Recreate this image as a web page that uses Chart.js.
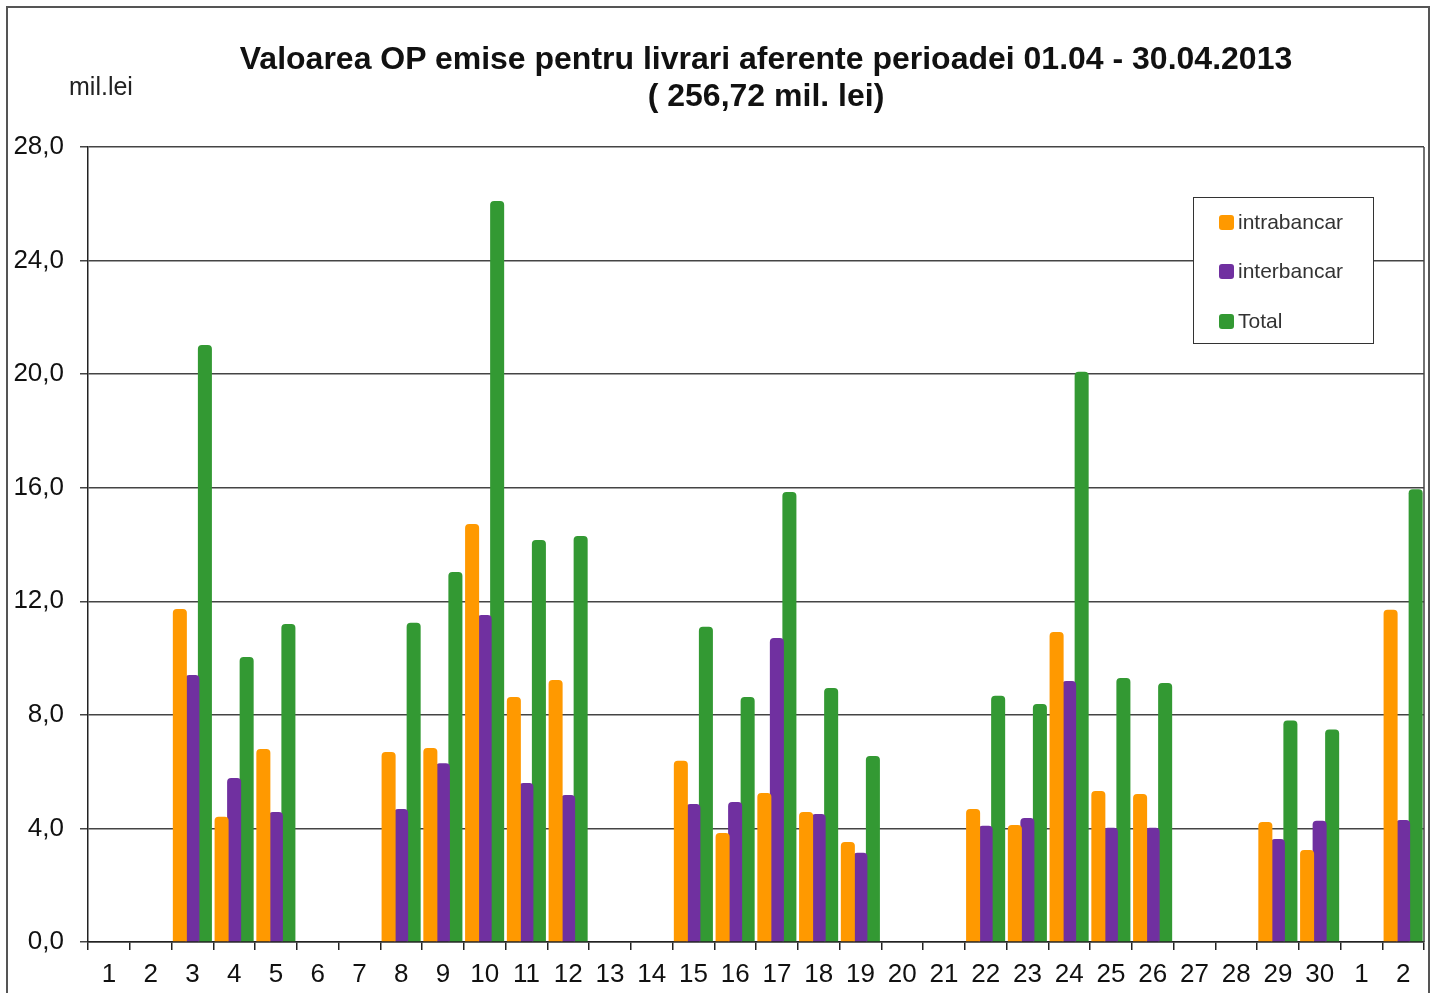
<!DOCTYPE html>
<html>
<head>
<meta charset="utf-8">
<script src="https://cdn.jsdelivr.net/npm/chart.js@4/dist/chart.umd.min.js"></script>
<style>
    body { margin: 0; background: #fff; font-family: "Liberation Sans", Arial, sans-serif; }
    #wrap { position: relative; width: 1435px; height: 993px; overflow: hidden; }
    #frame { position: absolute; left: 6px; top: 6px; width: 1424px; height: 1000px; border: 2px solid #555; box-sizing: border-box; }
    #title { position: absolute; left: 0; width: 1532px; top: 40px; text-align: center; font-weight: bold; font-size: 32px; line-height: 37px; color: #111; }
    #unit { position: absolute; left: 69px; top: 72px; font-size: 25px; color: #222; }
    #legend { position: absolute; left: 1193px; top: 197px; width: 181px; height: 147px; border: 1.5px solid #333; background: #fff; box-sizing: border-box; }
    .item { position: absolute; left: 25px; height: 22px; font-size: 21px; line-height: 22px; color: #333; }
    .item span { display: inline-block; width: 15px; height: 15px; border-radius: 3px; margin-right: 4px; vertical-align: -1px; }
</style>
</head>
<body>
<div id="wrap">
    <div id="frame"></div>
    <canvas id="op-chart"></canvas>
    <div id="title">Valoarea OP emise pentru livrari aferente perioadei 01.04 - 30.04.2013<br>( 256,72 mil. lei)</div>
    <div id="unit">mil.lei</div>
    <div id="legend"></div>
</div>
<script>
// ==============================
// Data
// ==============================
const dayLabels = ["1", "2", "3", "4", "5", "6", "7", "8", "9", "10", "11", "12", "13", "14", "15", "16",
    "17", "18", "19", "20", "21", "22", "23", "24", "25", "26", "27", "28", "29", "30", "1", "2"];

const intrabancarValues = [null, null, 11.73, 4.41, 6.80, null, null, 6.69, 6.83, 14.72, 8.63, 9.23, null, null, 6.38, 3.84,
    5.25, 4.58, 3.52, null, null, 4.68, 4.12, 10.92, 5.32, 5.21, null, null, 4.23, 3.24, null, 11.70];

const interbancarValues = [null, null, 9.40, 5.78, 4.58, null, null, 4.68, 6.30, 11.52, 5.60, 5.18, null, null, 4.86, 4.93,
    10.71, 4.51, 3.14, null, null, 4.09, 4.37, 9.19, 4.02, 4.02, null, null, 3.63, 4.27, null, 4.30];

const totalValues = [null, null, 21.03, 10.04, 11.20, null, null, 11.24, 13.03, 26.10, 14.16, 14.30, null, null, 11.10, 8.63,
    15.85, 8.95, 6.55, null, null, 8.67, 8.38, 20.08, 9.30, 9.12, null, null, 7.80, 7.48, null, 15.95];

const yTicks = [0, 4, 8, 12, 16, 20, 24, 28];

const seriesNames = ["intrabancar", "interbancar", "Total"];
const seriesColors = ["#FF9900", "#7030A0", "#339933"];

// ==============================
// Plot frame (right edge)
// ==============================
const plotFrame = {
    id: "plotFrame",
    afterDraw(chart) {
        const { ctx, chartArea } = chart;
        ctx.save();
        ctx.strokeStyle = "#444";
        ctx.lineWidth = 1.5;
        ctx.beginPath();
        ctx.moveTo(chartArea.right, chartArea.top);
        ctx.lineTo(chartArea.right, chartArea.bottom);
        ctx.stroke();
        ctx.restore();
    }
};

// ==============================
// Create Chart
// ==============================
const seriesData = [intrabancarValues, interbancarValues, totalValues];

const opChart = new Chart(document.getElementById("op-chart"), {
    type: "bar",
    data: {
        labels: dayLabels,
        datasets: seriesNames.map(function (name, i) {
            return {
                label: name,
                data: seriesData[i],
                backgroundColor: seriesColors[i],
                borderRadius: { topLeft: 4, topRight: 4 },
                borderSkipped: "bottom",
                categoryPercentage: 0.9,
                barPercentage: 1.12
            };
        })
    },
    options: {
        responsive: true,
        maintainAspectRatio: false,
        animation: false,
        layout: { padding: { left: 8, right: 11, top: 147, bottom: 0 } },
        plugins: {
            legend: { display: false },
            title: { display: false },
            tooltip: { enabled: false }
        },
        scales: {
            x: {
                offset: true,
                grid: { display: true, drawOnChartArea: false, drawTicks: true, tickLength: 8, color: "#222", lineWidth: 1.5 },
                border: { display: true, color: "#222", width: 1.5 },
                ticks: { color: "#111", font: { family: "Liberation Sans", size: 26 }, padding: 9, maxRotation: 0, autoSkip: false },
                afterFit: function (scale) { scale.height = 51; }
            },
            y: {
                min: 0,
                max: 28,
                afterBuildTicks: function (scale) {
                    scale.ticks = yTicks.map(function (v) { return { value: v }; });
                },
                grid: { color: "#444", lineWidth: 1.5, drawTicks: true, tickLength: 8 },
                border: { display: true, color: "#222", width: 1.5 },
                ticks: {
                    color: "#111",
                    font: { family: "Liberation Sans", size: 26 },
                    padding: 16,
                    callback: function (v) { return v.toFixed(1).replace(".", ","); }
                },
                afterFit: function (scale) { scale.width = 80; }
            }
        }
    },
    plugins: [plotFrame]
});

// ==============================
// Legend
// ==============================
const legendBox = document.getElementById("legend");
const legendTops = [13, 62, 112];
seriesNames.forEach(function (name, i) {
    const item = document.createElement("div");
    item.className = "item";
    item.style.top = legendTops[i] + "px";
    item.innerHTML = '<span style="background:' + seriesColors[i] + '"></span>' + name;
    legendBox.appendChild(item);
});
</script>
</body>
</html>
